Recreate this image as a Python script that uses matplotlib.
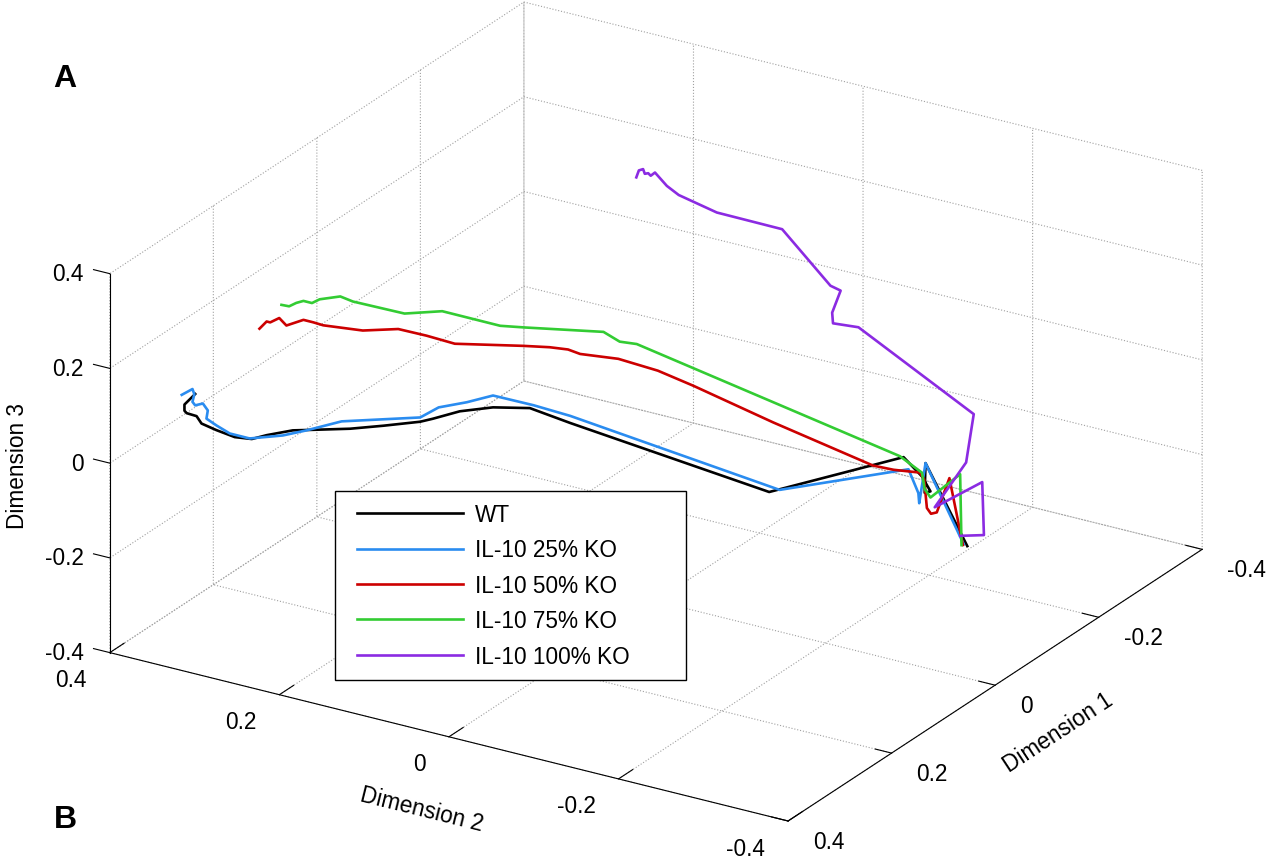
import matplotlib

matplotlib.use("Agg")

import matplotlib.pyplot as plt
import numpy as np
from matplotlib.patches import Rectangle
from matplotlib.ticker import NullFormatter

plt.rcParams["font.family"] = ["Liberation Sans", "DejaVu Sans"]
plt.rcParams["axes.unicode_minus"] = False

# trajectories: Dimension 1, Dimension 2, Dimension 3
wt_d1 = [0.294, 0.300, 0.300, 0.299, 0.293, 0.290, 0.281, 0.270, 0.260, 0.251, 0.235, 0.225, 0.201, 0.181,
         0.159, 0.151, 0.135, 0.115, 0.093, 0.069, -0.050, -0.131, -0.142, -0.147, -0.144, -0.144, -0.169]
wt_d2 = [0.364, 0.373, 0.373, 0.371, 0.363, 0.359, 0.347, 0.332, 0.318, 0.306, 0.285, 0.271, 0.238, 0.211,
         0.181, 0.171, 0.149, 0.122, 0.092, 0.059, -0.103, -0.212, -0.227, -0.234, -0.229, -0.230, -0.264]
wt_d3 = [0.086, 0.064, 0.051, 0.046, 0.039, 0.023, 0.008, -0.008, -0.013, -0.006, 0.002, 0.002, 0.002, 0.006,
         0.012, 0.017, 0.031, 0.037, 0.033, -0.001, -0.160, -0.096, -0.138, -0.170, -0.173, -0.110, -0.288]

ko25_d1 = [0.302, 0.296, 0.294, 0.296, 0.294, 0.289, 0.286, 0.287, 0.281, 0.273, 0.261, 0.241, 0.227, 0.206,
           0.159, 0.148, 0.131, 0.115, 0.091, 0.069, -0.057, -0.134, -0.140, -0.140, -0.144, -0.167]
ko25_d2 = [0.375, 0.366, 0.365, 0.366, 0.364, 0.358, 0.354, 0.355, 0.347, 0.336, 0.320, 0.293, 0.274, 0.245,
           0.181, 0.166, 0.143, 0.122, 0.089, 0.059, -0.111, -0.216, -0.224, -0.225, -0.230, -0.261]
ko25_d3 = [0.085, 0.097, 0.085, 0.070, 0.062, 0.065, 0.050, 0.033, 0.018, 0.000, -0.012, -0.008, 0.001, 0.018,
           0.021, 0.041, 0.050, 0.062, 0.039, 0.014, -0.157, -0.122, -0.173, -0.194, -0.110, -0.284]

ko50_d1 = [0.255, 0.251, 0.249, 0.243, 0.239, 0.229, 0.223, 0.217, 0.193, 0.172, 0.155, 0.138, 0.097, 0.081,
           0.070, 0.063, 0.040, 0.016, -0.005, -0.053, -0.113, -0.125, -0.141, -0.143, -0.145, -0.148, -0.151,
           -0.159, -0.167]
ko50_d2 = [0.312, 0.306, 0.303, 0.296, 0.290, 0.276, 0.268, 0.260, 0.228, 0.199, 0.176, 0.153, 0.097, 0.076,
           0.061, 0.051, 0.020, -0.012, -0.041, -0.106, -0.187, -0.204, -0.225, -0.229, -0.231, -0.234, -0.239,
           -0.249, -0.260]
ko50_d3 = [0.219, 0.234, 0.232, 0.240, 0.224, 0.235, 0.229, 0.222, 0.208, 0.209, 0.193, 0.174, 0.165, 0.160,
           0.154, 0.144, 0.131, 0.103, 0.069, -0.014, -0.112, -0.122, -0.130, -0.144, -0.205, -0.218, -0.215,
           -0.144, -0.286]

ko75_d1 = [0.242, 0.237, 0.233, 0.229, 0.224, 0.219, 0.207, 0.199, 0.168, 0.146, 0.111, 0.097, 0.049, 0.039,
           0.029, -0.129, -0.142, -0.144, -0.147, -0.165, -0.166]
ko75_d2 = [0.294, 0.288, 0.282, 0.276, 0.269, 0.263, 0.246, 0.236, 0.194, 0.163, 0.116, 0.097, 0.032, 0.019,
           0.005, -0.209, -0.227, -0.229, -0.234, -0.258, -0.259]
ko75_d3 = [0.268, 0.264, 0.271, 0.275, 0.270, 0.277, 0.282, 0.270, 0.241, 0.244, 0.209, 0.204, 0.189, 0.167,
           0.161, -0.094, -0.130, -0.165, -0.183, -0.136, -0.286]

ko100_d1 = [-0.170] * 22
ko100_d2 = [0.127, 0.124, 0.119, 0.117, 0.113, 0.110, 0.105, 0.091, 0.077, 0.032, -0.045, -0.102, -0.114,
            -0.104, -0.105, -0.135, -0.271, -0.262, -0.225, -0.281, -0.283, -0.255]
ko100_d3 = [0.316, 0.332, 0.337, 0.328, 0.331, 0.327, 0.336, 0.314, 0.301, 0.284, 0.283, 0.189, 0.184, 0.133,
            0.111, 0.116, -0.007, -0.113, -0.224, -0.146, -0.257, -0.271]

series = [
    ("WT", "#000000", wt_d1, wt_d2, wt_d3),
    ("IL-10 25% KO", "#2a8cf0", ko25_d1, ko25_d2, ko25_d3),
    ("IL-10 50% KO", "#cc0000", ko50_d1, ko50_d2, ko50_d3),
    ("IL-10 75% KO", "#33cc33", ko75_d1, ko75_d2, ko75_d3),
    ("IL-10 100% KO", "#8b2be2", ko100_d1, ko100_d2, ko100_d3),
]

ticks = [-0.4, -0.2, 0, 0.2, 0.4]
tick_labels = ["-0.4", "-0.2", "0", "0.2", "0.4"]

W, H = 1280, 862
FS = 16.3

fig = plt.figure(figsize=(W / 100, H / 100), dpi=100)
side = 1161
cx, cy = 640.3, 428.2
ax = fig.add_axes([(cx - side / 2) / W, (H - cy - side / 2) / H, side / W, side / H],
                  projection="3d", proj_type="ortho", computed_zorder=False)
ax.view_init(elev=23.8, azim=-58.4)
ax.set_box_aspect((796, 790, 414))

handles = []
for label, color, d1, d2, d3 in series:
    (line,) = ax.plot(d2, d1, d3, color=color, linewidth=1.9, label=label)
    handles.append(line)

ax.set_xlim(0.4, -0.4)
ax.set_ylim(0.4, -0.4)
ax.set_zlim(-0.4, 0.4)
ax.set_xticks(ticks)
ax.set_yticks(ticks)
ax.set_zticks(ticks)
ax.zaxis.set_ticks_position("upper")

for axis, out in ((ax.xaxis, 0.43), (ax.yaxis, 0.30), (ax.zaxis, 0.30)):
    axis.set_major_formatter(NullFormatter())
    axis.set_pane_color((1, 1, 1, 0))
    axis._axinfo["grid"].update(color="#a0a0a0", linewidth=0.8, linestyle=":")
    axis._axinfo["tick"].update(inward_factor=0.0, outward_factor=out)
    axis._axinfo["axisline"].update(color="black", linewidth=0.9)

fig.canvas.draw()


def project(x, y, z):
    v = ax.M @ np.array([x, y, z, 1.0])
    return ax.transData.transform((v[0] / v[3], v[1] / v[3]))


def put(p, dx, dy, text, **kw):
    fig.text((p[0] + dx) / W, (p[1] + dy) / H, text, fontsize=FS, **kw)


for t, s in zip(ticks, tick_labels):
    put(project(0.4, 0.4, t), -26, 0, s, ha="right", va="center")
    put(project(t, 0.4, -0.4), -23, -27, s, ha="right", va="center")
    put(project(-0.4, t, -0.4), 25, -20, s, ha="left", va="center")

p0, p1 = project(0.4, 0.4, -0.4), project(-0.4, 0.4, -0.4)
ang2 = np.degrees(np.arctan2(p1[1] - p0[1], p1[0] - p0[0]))
q1 = project(-0.4, -0.4, -0.4)
ang1 = np.degrees(np.arctan2(q1[1] - p1[1], q1[0] - p1[0]))
put(project(0, 0.4, -0.4), -27, -72, "Dimension 2", ha="center", va="center", rotation=ang2)
put(project(-0.4, 0, -0.4), 63, -47, "Dimension 1", ha="center", va="center", rotation=ang1)
put(project(0.4, 0.4, 0), -92, -2, "Dimension 3", ha="center", va="center", rotation=90)

fig.add_artist(Rectangle((335 / W, (H - 681) / H), 351 / W, 189 / H, transform=fig.transFigure,
                         facecolor="white", edgecolor="black", linewidth=1.0, zorder=3))
fig.legend(handles, [s[0] for s in series], loc="upper left", bbox_to_anchor=(357 / W, (H - 504) / H),
           frameon=False, borderpad=0, borderaxespad=0, handlelength=4.68, handletextpad=0.53,
           labelspacing=0.55, fontsize=FS)

fig.text(65 / W, 1 - 79 / H, "A", fontsize=23, fontweight="bold", ha="center", va="center")
fig.text(65 / W, 1 - 820 / H, "B", fontsize=23, fontweight="bold", ha="center", va="center")

fig.savefig("out.png", dpi=100)
